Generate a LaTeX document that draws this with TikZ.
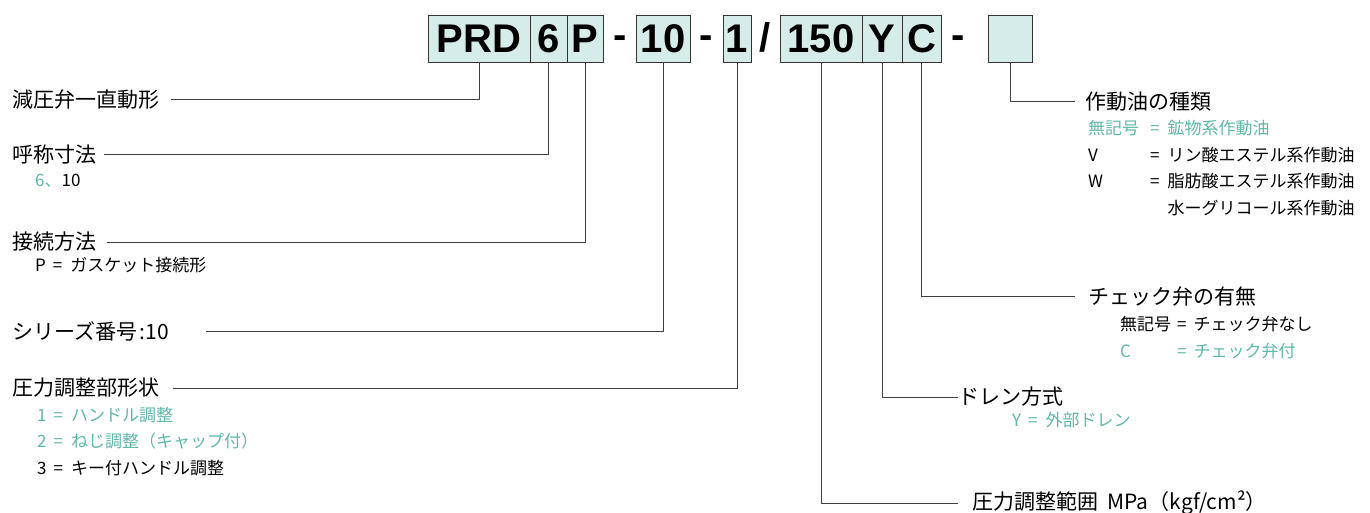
\documentclass[tikz,border=0pt]{standalone}
\usepackage{fontspec}
\setmainfont{Liberation Sans}
\newfontfamily\jpfont{Noto Sans CJK JP}
\usetikzlibrary{positioning}
\definecolor{codefill}{RGB}{214,236,232}
\definecolor{codeteal}{RGB}{95,184,168}
\newcommand{\eqs}{\hspace{7pt}=\hspace{8pt}}
\tikzset{
  codebox/.style={draw=black!80, fill=codefill, line width=0.9pt, minimum height=47pt, inner sep=0pt, font=\fontsize{40}{40}\selectfont\bfseries},
  sepmark/.style={inner sep=0pt, font=\fontsize{40}{40}\selectfont\bfseries},
  head/.style={anchor=west, inner sep=0pt, font=\jpfont\fontsize{21}{24}\selectfont},
  item/.style={anchor=north west, inner sep=0pt, font=\jpfont\fontsize{17}{26.5}\selectfont, align=left},
  lead/.style={draw=black!75, line width=1pt}
}

\begin{document}
\begin{tikzpicture}[x=1pt,y=-1pt]
\useasboundingbox (0,0) rectangle (1370,513);
% model code boxes
\node[codebox, minimum width=102pt] (prd) at (479,38.5) {PRD};
\node[codebox, minimum width=37pt] (six) at (548.5,38.5) {6};
\node[codebox, minimum width=36pt] (pee) at (585,38.5) {P};
\node[sepmark] (dasha) at (620,42) {-};
\node[codebox, minimum width=54pt] (ten) at (663,38.5) {10};
\node[sepmark] (dashb) at (706,42) {-};
\node[codebox, minimum width=28pt] (one) at (737,38.5) {1};
\node[sepmark] (slash) at (765,37) {/};
\node[codebox, minimum width=82pt] (press) at (821,38.5) {150};
\node[codebox, minimum width=40pt] (why) at (882,38.5) {Y};
\node[codebox, minimum width=39pt] (cee) at (921.5,38.5) {C};
\node[sepmark] (dashc) at (958,42) {-};
\node[codebox, minimum width=44pt] (blank) at (1010,38.5) {};

% left side
\node[head] (kind) at (12,100) {減圧弁一直動形};
\node[head] (size) at (12,155) {呼称寸法};
\node[item] (sizeitem) at (35,174) {\textcolor{codeteal}{6、}10};
\node[head] (conn) at (12,242) {接続方法};
\node[item] (connitem) at (35,257) {P\eqs ガスケット接続形};
\node[head] (series) at (12,331) {シリーズ番号\kern2pt:\kern1pt 10};
\node[head] (adj) at (12,388) {圧力調整部形状};
\node[item] (adjitem) at (37,407) {\textcolor{codeteal}{1\eqs ハンドル調整}\\
  \textcolor{codeteal}{2\eqs ねじ調整（キャップ付）}\\
  3\eqs キー付ハンドル調整};

% right side
\node[head] (oil) at (1085,102) {作動油の種類};
\node[item] (oilitem) at (1088,116) {\begin{tabular}{@{}l@{\hspace{11pt}}l@{\hspace{8pt}}l@{}}
  \textcolor{codeteal}{無記号} & \textcolor{codeteal}{=} & \textcolor{codeteal}{鉱物系作動油}\\
  V & = & リン酸エステル系作動油\\
  W & = & 脂肪酸エステル系作動油\\
    &   & 水ーグリコール系作動油
  \end{tabular}};
\node[head] (check) at (1088,296) {チェック弁の有無};
\node[item] (checkitem) at (1120,312) {\begin{tabular}{@{}l@{\hspace{6pt}}l@{\hspace{7pt}}l@{}}
  無記号 & = & チェック弁なし\\
  \textcolor{codeteal}{C} & \textcolor{codeteal}{=} & \textcolor{codeteal}{チェック弁付}
  \end{tabular}};
\node[head] (drain) at (958,397) {ドレン方式};
\node[item] (drainitem) at (1012,412) {\textcolor{codeteal}{Y\eqs 外部ドレン}};
\node[head] (range) at (972,503) {圧力調整範囲\ \ MPa（kgf/cm²）};

% leader lines
\draw[lead] (prd.south) |- ([xshift=12pt]kind.east);
\draw[lead] (six.south) |- ([xshift=8pt]size.east);
\draw[lead] (pee.south) |- ([xshift=11pt]conn.east);
\draw[lead] (ten.south) |- ([xshift=36pt]series.east);
\draw[lead] (one.south) |- ([xshift=14pt]adj.east);
\draw[lead] (press.south) |- ([xshift=-14pt]range.west);
\draw[lead] (why.south) |- (drain.west);
\draw[lead] (cee.south) |- ([xshift=-13pt]check.west);
\draw[lead] (blank.south) |- ([xshift=-10pt]oil.west);
\end{tikzpicture}
\end{document}
